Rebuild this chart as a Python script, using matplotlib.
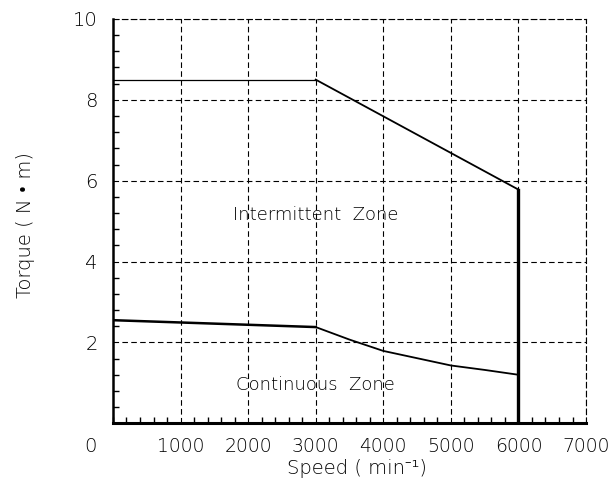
import matplotlib
matplotlib.use("Agg")
import matplotlib.pyplot as plt
from matplotlib.ticker import MultipleLocator

# intermittent zone boundary (N*m vs min^-1)
inter_speed = [0, 3000, 6000]
inter_torque = [8.5, 8.5, 5.78]

# continuous zone boundary
cont_speed = [0, 3000, 3500, 4000, 4500, 5000, 5500, 6000]
cont_torque = [2.55, 2.38, 2.07, 1.79, 1.61, 1.43, 1.32, 1.2]

max_speed = 6000

xticks = [1000, 2000, 3000, 4000, 5000, 6000, 7000]
yticks = [2, 4, 6, 8, 10]

plt.rcParams["font.family"] = ["DejaVu Sans", "Noto Sans", "Liberation Sans"]
plt.rcParams["font.weight"] = "light"
plt.rcParams["axes.labelweight"] = "light"

fig = plt.figure(figsize=(6.13, 4.93), dpi=100)
ax = fig.add_axes([0.1843, 0.1414, 0.7717, 0.8201])

ax.set_xlim(0, 7000)
ax.set_ylim(0, 10)

# grid
ax.set_xticks(xticks)
ax.set_yticks(yticks)
ax.xaxis.set_minor_locator(MultipleLocator(200))
ax.yaxis.set_minor_locator(MultipleLocator(0.4))
ax.grid(True, which="major", color="black", linestyle=(0, (5, 3)), linewidth=0.8)

for side in ("top", "right"):
    ax.spines[side].set_linestyle((0, (5, 3)))
    ax.spines[side].set_linewidth(0.8)
ax.spines["left"].set_linewidth(1.8)
ax.spines["bottom"].set_linewidth(2.2)

ax.tick_params(which="both", direction="in", color="black", top=False, right=False)
ax.tick_params(which="major", length=0)
ax.tick_params(which="minor", length=4, width=1.0)
ax.tick_params(axis="y", which="major", pad=11, labelsize=14, labelcolor="black")
ax.tick_params(axis="x", which="major", pad=10, labelsize=13.5, labelcolor="black")
ax.set_xticklabels([str(t) for t in xticks])
ax.set_yticklabels([str(t) for t in yticks])

# intermittent boundary
ax.plot(inter_speed[:2], inter_torque[:2], color="black", linewidth=0.9)
ax.plot(inter_speed[1:], inter_torque[1:], color="black", linewidth=1.3)
ax.plot([max_speed, max_speed], [0, inter_torque[-1]], color="black", linewidth=2.4)

# continuous boundary
ax.plot(cont_speed[:2], cont_torque[:2], color="black", linewidth=1.8)
ax.plot(cont_speed[1:], cont_torque[1:], color="black", linewidth=1.3)

ax.text(3000, 5.15, "Intermittent  Zone", ha="center", va="center", fontsize=13)
ax.text(3000, 0.95, "Continuous  Zone", ha="center", va="center", fontsize=13)

fig.text(97 / 613, 1 - 447 / 493, "0", ha="right", va="center", fontsize=14)

ax.set_xlabel("Speed ( min⁻¹)", fontsize=14)
ax.xaxis.set_label_coords((357 - 113) / 473, (423.3 - 459) / 403.3)
ax.set_ylabel("Torque ( N • m)", fontsize=14)
ax.yaxis.set_label_coords((35 - 113) / 473, (423.3 - 226) / 403.3)

fig.savefig("out.png", dpi=100)
plt.close(fig)
